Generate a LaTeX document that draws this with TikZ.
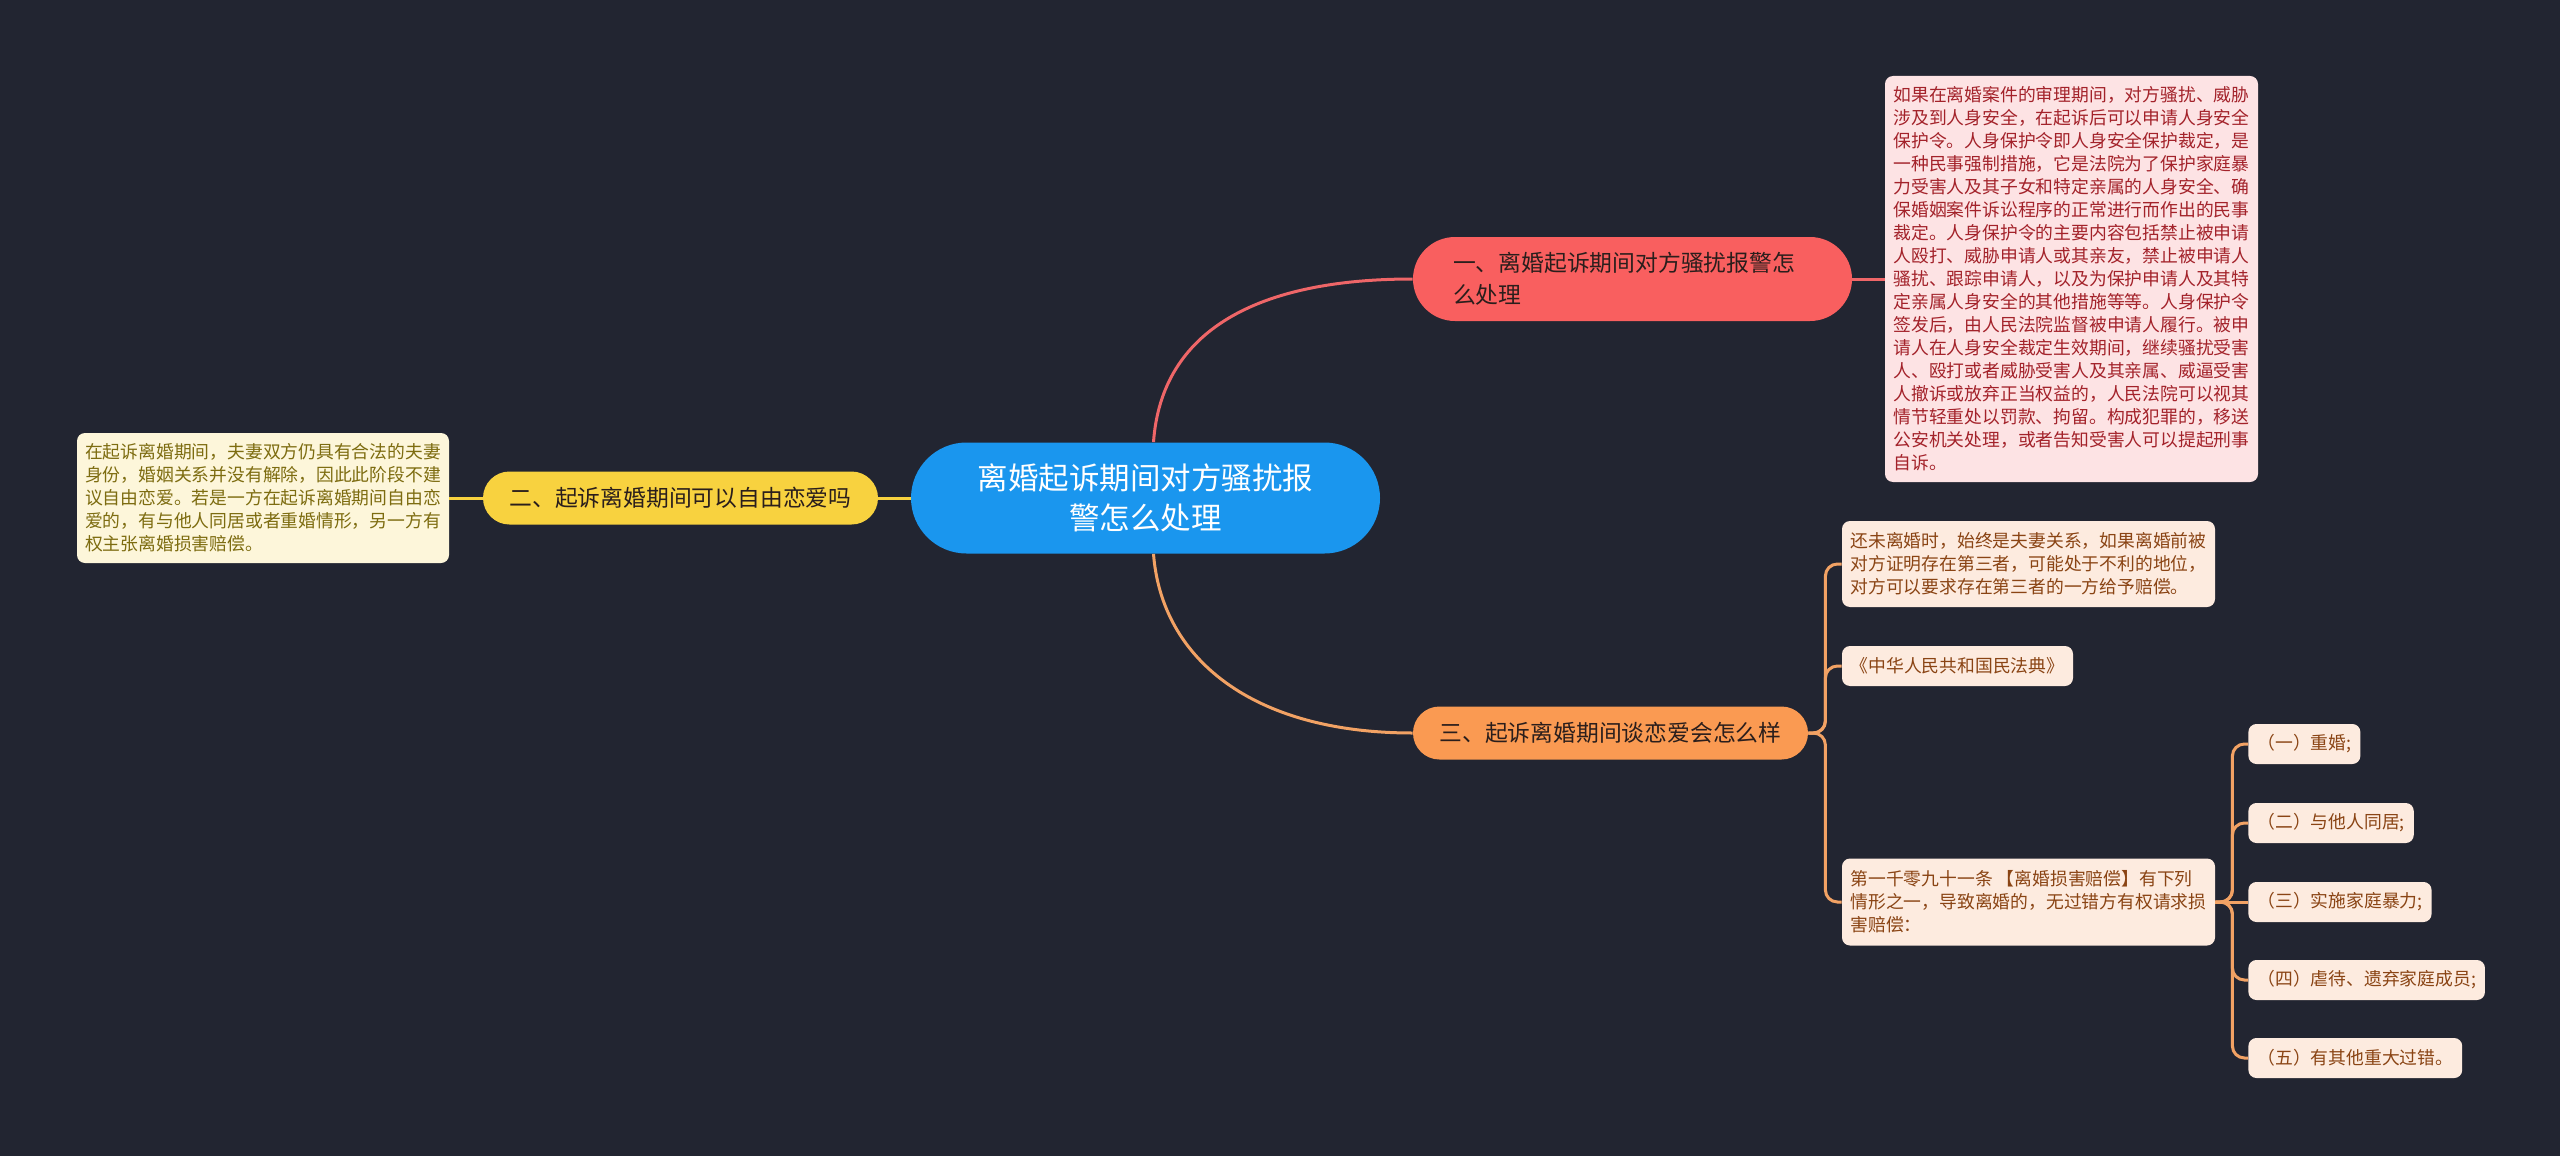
\documentclass[tikz,border=0pt]{standalone}
\usepackage{fontspec}
\setmainfont{Noto Sans CJK SC}
\usepackage{xcolor}
\usepackage{tikz}
\usetikzlibrary{positioning}

\definecolor{bgdark}{HTML}{222531}
\definecolor{rootblue}{HTML}{1A96EE}
\definecolor{redfill}{HTML}{F95F5F}
\definecolor{redlight}{HTML}{FDE3E4}
\definecolor{redtext}{HTML}{A3222A}
\definecolor{redline}{HTML}{EF6668}
\definecolor{yelfill}{HTML}{F8D23F}
\definecolor{yellight}{HTML}{FDF6DA}
\definecolor{yeltext}{HTML}{7D6C10}
\definecolor{orgfill}{HTML}{FA9A52}
\definecolor{orglight}{HTML}{FDEBDF}
\definecolor{orgtext}{HTML}{8A4414}
\definecolor{orgline}{HTML}{F2A264}
\definecolor{darktext}{HTML}{2A1E1C}

\begin{document}
\begin{tikzpicture}[x=0.5pt, y=-0.5pt,
  rootnode/.style={fill=rootblue, text=white, rounded corners=27.75pt,
    minimum width=234.5pt, minimum height=55.5pt, align=center,
    font=\fontsize{15.25}{20}\selectfont},
  branch/.style={rounded corners=13.25pt, text=darktext, minimum height=26.5pt,
    inner xsep=10pt, inner ysep=0pt, font=\fontsize{11.4}{16}\selectfont},
  leaf/.style={rounded corners=4pt, inner xsep=4pt, inner ysep=0pt, align=left,
    font=\fontsize{8.9}{11.5}\selectfont},
  redleaf/.style={leaf, fill=redlight, text=redtext},
  yelleaf/.style={leaf, fill=yellight, text=yeltext},
  orgleaf/.style={leaf, fill=orglight, text=orgtext, minimum height=20pt},
  link/.style={line width=1.5pt},
  bracket/.style={link, draw=orgline, rounded corners=6pt}
]
  \fill[bgdark] (0,0) rectangle (2560,1156);

  \node[rootnode] (root) at (1145.5,498) {离婚起诉期间对方骚扰报\\警怎么处理};

  % branch one
  \node[branch, fill=redfill, rounded corners=21pt, minimum width=219.5pt,
    minimum height=42pt, text width=179.5pt, inner xsep=20pt, align=left]
    (one) at (1632.5,279) {一、离婚起诉期间对方骚扰报警怎\\么处理};
  \node[redleaf, minimum width=186.5pt, minimum height=203pt] (onetext) at (2071.5,279)
    {如果在离婚案件的审理期间，对方骚扰、威胁\\
     涉及到人身安全，在起诉后可以申请人身安全\\
     保护令。人身保护令即人身安全保护裁定，是\\
     一种民事强制措施，它是法院为了保护家庭暴\\
     力受害人及其子女和特定亲属的人身安全、确\\
     保婚姻案件诉讼程序的正常进行而作出的民事\\
     裁定。人身保护令的主要内容包括禁止被申请\\
     人殴打、威胁申请人或其亲友，禁止被申请人\\
     骚扰、跟踪申请人，以及为保护申请人及其特\\
     定亲属人身安全的其他措施等等。人身保护令\\
     签发后，由人民法院监督被申请人履行。被申\\
     请人在人身安全裁定生效期间，继续骚扰受害\\
     人、殴打或者威胁受害人及其亲属、威逼受害\\
     人撤诉或放弃正当权益的，人民法院可以视其\\
     情节轻重处以罚款、拘留。构成犯罪的，移送\\
     公安机关处理，或者告知受害人可以提起刑事\\
     自诉。};

  % branch two
  \node[branch, fill=yelfill, minimum width=197.5pt] (two) at (680.5,498)
    {二、起诉离婚期间可以自由恋爱吗};
  \node[yelleaf, minimum width=186pt, minimum height=65pt] (twotext) at (263,498)
    {在起诉离婚期间，夫妻双方仍具有合法的夫妻\\
     身份，婚姻关系并没有解除，因此此阶段不建\\
     议自由恋爱。若是一方在起诉离婚期间自由恋\\
     爱的，有与他人同居或者重婚情形，另一方有\\
     权主张离婚损害赔偿。};

  % branch three
  \node[branch, fill=orgfill, minimum width=197.5pt] (three) at (1610.5,733)
    {三、起诉离婚期间谈恋爱会怎么样};
  \node[orgleaf, minimum width=186.5pt, minimum height=43pt] (third) at (2028.5,564)
    {还未离婚时，始终是夫妻关系，如果离婚前被\\
     对方证明存在第三者，可能处于不利的地位，\\
     对方可以要求存在第三者的一方给予赔偿。};
  \node[orgleaf, minimum width=115.5pt] (code) at (1957.5,666)
    {《中华人民共和国民法典》};
  \node[orgleaf, minimum width=186.5pt, minimum height=43.5pt] (article) at (2028.5,902)
    {第一千零九十一条 【离婚损害赔偿】有下列\\
     情形之一，导致离婚的，无过错方有权请求损\\
     害赔偿：};

  \node[orgleaf, inner xsep=4.5pt, anchor=west] (bigamy) at (2248,744) {（一）重婚;};
  \node[orgleaf, inner xsep=4.5pt, anchor=west] (cohabit) at (2248,823) {（二）与他人同居;};
  \node[orgleaf, inner xsep=4.5pt, anchor=west] (violence) at (2248,902) {（三）实施家庭暴力;};
  \node[orgleaf, inner xsep=4.5pt, anchor=west] (abuse) at (2248,980) {（四）虐待、遗弃家庭成员;};
  \node[orgleaf, inner xsep=4.5pt, anchor=west] (other) at (2248,1058) {（五）有其他重大过错。};

  % connectors
  \draw[link, redline] ([xshift=4pt]root.north) .. controls +(8,-112) and +(-155,0) .. (one.west);
  \draw[link, redline] (one.east) -- (onetext.west);
  \draw[link, yelfill] (root.west) -- (two.east);
  \draw[link, yelfill] (two.west) -- (twotext.east);
  \draw[link, orgline] ([xshift=4pt]root.south) .. controls +(8,105) and +(-160,0) .. (three.west);

  \draw[bracket] (three.east) -- ++(17,0) |- (third.west);
  \draw[bracket] (three.east) -- ++(17,0) |- (code.west);
  \draw[bracket] (three.east) -- ++(17,0) |- (article.west);

  \draw[bracket] (article.east) -- ++(17,0) |- (bigamy.west);
  \draw[bracket] (article.east) -- ++(17,0) |- (cohabit.west);
  \draw[bracket] (article.east) -- (violence.west);
  \draw[bracket] (article.east) -- ++(17,0) |- (abuse.west);
  \draw[bracket] (article.east) -- ++(17,0) |- (other.west);
\end{tikzpicture}
\end{document}
